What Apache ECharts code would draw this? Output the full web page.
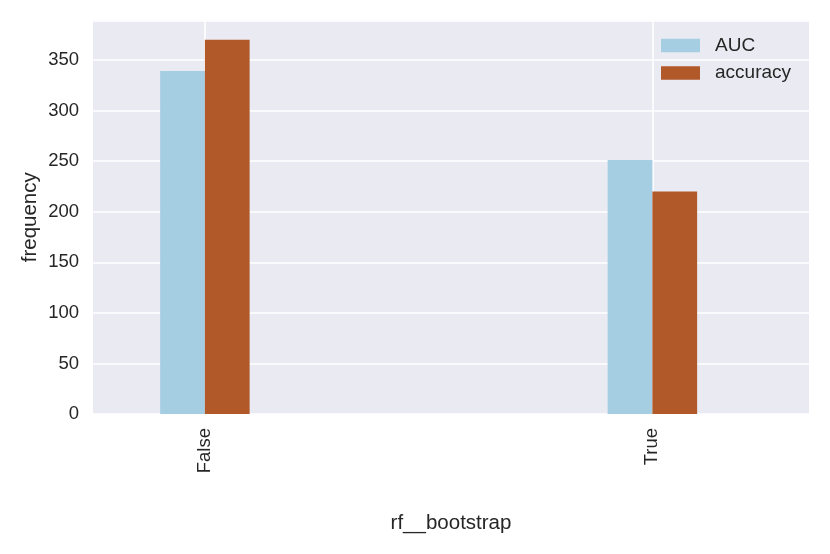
<!DOCTYPE html>
<html>
<head>
    <meta charset="UTF-8">
    <title>rf__bootstrap</title>
    <script type="text/javascript" src="https://cdn.jsdelivr.net/npm/echarts@6/dist/echarts.min.js"></script>
    <style>
        body {
            margin: 0;
            padding: 0;
            background-color: #fff;
        }
    </style>
</head>
<body>
<div id="bar" style="width:830px; height:554px;"></div>

<script>
    var categories = ['False', 'True'];
    var seriesNames = ['AUC', 'accuracy'];
    var aucValues = [339, 251];
    var accuracyValues = [370, 220];
    var yTicks = [0, 50, 100, 150, 200, 250, 300, 350];

    var font = 'Liberation Sans';
    var textColor = '#262626';

    // bars sit either side of the category position, 0.1 wide each
    function place(values, shift) {
        return values.map(function (v, i) {
            return [i + shift, v];
        });
    }

    var chart = echarts.init(document.getElementById('bar'), null, {renderer: 'canvas'});

    chart.setOption({
        animation: false,
        textStyle: {fontFamily: font},
        grid: {
            left: 93, top: 20.5, right: 21, bottom: 140,
            show: true, backgroundColor: '#EAEAF2', borderWidth: 0
        },
        legend: {
            orient: 'vertical',
            left: 656, top: 31,
            itemWidth: 39, itemHeight: 13.5, itemGap: 8.4,
            icon: 'rect',
            selectedMode: false,
            textStyle: {fontSize: 19, lineHeight: 19, color: textColor, padding: [0, 0, 0, 10]},
            data: seriesNames
        },
        xAxis: {
            type: 'value',
            min: -0.25, max: 1.35,
            name: 'rf__bootstrap',
            nameLocation: 'middle',
            nameGap: 99,
            nameMoveOverlap: false,
            nameTextStyle: {fontSize: 20.5, color: textColor},
            axisLine: {show: false},
            axisTick: {show: false, customValues: [0, 1]},
            splitLine: {show: false},
            axisLabel: {
                customValues: [0, 1],
                rotate: 90,
                margin: 14,
                fontSize: 18.5,
                color: textColor,
                formatter: function (v) { return categories[Math.round(v)]; }
            }
        },
        yAxis: {
            type: 'value',
            min: 0, max: 389, interval: 50,
            name: 'frequency',
            nameLocation: 'middle',
            nameGap: 52,
            nameMoveOverlap: false,
            nameTextStyle: {fontSize: 20.5, color: textColor},
            axisLine: {show: false},
            axisTick: {show: false},
            splitLine: {lineStyle: {color: '#fff', width: 1.6}},
            axisLabel: {
                margin: 14,
                fontSize: 18.5,
                color: textColor,
                showMaxLabel: false,
                formatter: function (v) { return yTicks.indexOf(v) >= 0 ? String(v) : ''; }
            }
        },
        series: [
            {
                name: 'AUC',
                type: 'bar',
                data: place(aucValues, -0.05),
                barWidth: 44.75,
                barGap: '-100%',
                itemStyle: {color: '#A6CEE3'},
                emphasis: {disabled: true},
                markLine: {
                    silent: true,
                    symbol: 'none',
                    z: 1,
                    label: {show: false},
                    lineStyle: {color: '#fff', width: 1.6, type: 'solid'},
                    data: [{xAxis: 0}, {xAxis: 1}]
                }
            },
            {
                name: 'accuracy',
                type: 'bar',
                data: place(accuracyValues, 0.05),
                barWidth: 44.75,
                barGap: '-100%',
                itemStyle: {color: '#B15928'},
                emphasis: {disabled: true}
            }
        ]
    });
</script>
</body>
</html>
